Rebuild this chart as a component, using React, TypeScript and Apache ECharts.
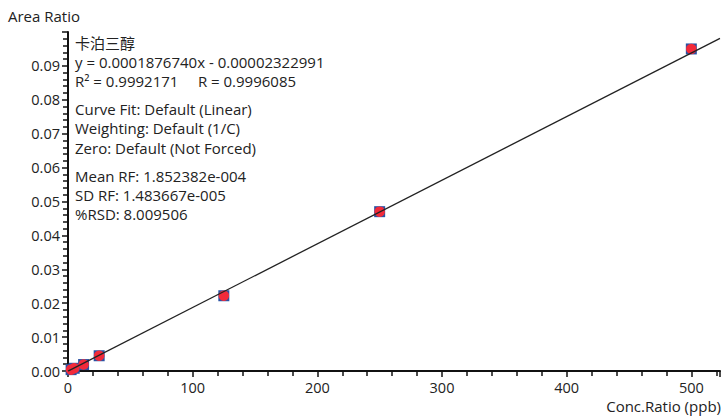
import React, { useEffect, useRef } from "react";
import * as echarts from "echarts";

const concRatio = [2.5, 5, 12.5, 25, 125, 250, 500];
const areaRatio = [0.0004, 0.0008, 0.0019, 0.0045, 0.0222, 0.0470, 0.0950];
const fitLine = [
  [0, -0.0000232],
  [523, 0.09813],
];
const annotationLines = [
  { text: "卡泊三醇", y: 43 },
  { text: "y = 0.0001876740x - 0.00002322991", y: 62 },
  { text: "R² = 0.9992171     R = 0.9996085", y: 81 },
  { text: "Curve Fit: Default (Linear)", y: 109 },
  { text: "Weighting: Default (1/C)", y: 128 },
  { text: "Zero: Default (Not Forced)", y: 148 },
  { text: "Mean RF: 1.852382e-004", y: 176 },
  { text: "SD RF: 1.483667e-005", y: 195 },
  { text: "%RSD: 8.009506", y: 214 },
];

const FONT = "'Open Sans', 'Noto Sans CJK SC', 'Noto Sans', sans-serif";

export default function App() {
  const ref = useRef<HTMLDivElement>(null);
  useEffect(() => {
    if (!ref.current) return;
    const chart = echarts.init(ref.current, null, { renderer: "svg" });
    const pts = concRatio.map((c, i) => [c, areaRatio[i]]);
    chart.setOption({
      animation: false,
      backgroundColor: "#ffffff",
      textStyle: { fontFamily: FONT },
      grid: { left: 68, right: 0, top: 32, bottom: 45, containLabel: false },
      xAxis: {
        type: "value",
        min: 0,
        max: 523,
        interval: 100,
        splitLine: { show: false },
        axisLine: { show: true, onZero: false, lineStyle: { color: "#111", width: 2 } },
        axisTick: { show: true, length: 6, lineStyle: { color: "#111", width: 1.5 } },
        minorTick: { show: true, splitNumber: 5, length: 5, lineStyle: { color: "#111", width: 1.5 } },
        axisLabel: {
          color: "#222",
          fontSize: 14.5,
          fontFamily: FONT,
          margin: 9,
          formatter: (v: number) => (v % 100 === 0 ? String(v) : ""),
        },
      },
      yAxis: {
        type: "value",
        min: 0,
        max: 0.1,
        interval: 0.01,
        splitLine: { show: false },
        axisLine: { show: true, onZero: false, lineStyle: { color: "#111", width: 2 } },
        axisTick: { show: true, length: 6, lineStyle: { color: "#111", width: 1.5 } },
        minorTick: { show: true, splitNumber: 5, length: 5, lineStyle: { color: "#111", width: 1.5 } },
        axisLabel: {
          color: "#222",
          fontSize: 14.5,
          fontFamily: FONT,
          margin: 8,
          showMaxLabel: false,
          formatter: (v: number) => v.toFixed(2),
        },
      },
      series: [
        {
          type: "scatter",
          data: pts,
          symbol: "rect",
          symbolSize: 11,
          itemStyle: { color: "#2b52a3", opacity: 1 },
          z: 2,
        },
        {
          type: "scatter",
          data: pts,
          symbol: "circle",
          symbolSize: 10.5,
          itemStyle: { color: "#f22a3a", opacity: 1 },
          z: 3,
        },
        {
          type: "line",
          data: fitLine,
          symbol: "none",
          lineStyle: { color: "#222", width: 1.3 },
          z: 4,
        },
      ],
      graphic: [
        {
          type: "text",
          left: 8,
          top: 8,
          style: { text: "Area Ratio", fontSize: 15, fill: "#222", fontFamily: FONT },
        },
        {
          type: "text",
          right: 2,
          top: 398,
          style: {
            text: "Conc.Ratio (ppb)",
            fontSize: 15,
            fill: "#222",
            fontFamily: FONT,
          },
        },
        ...annotationLines.map((l) => ({
          type: "text",
          x: 75,
          y: l.y,
          style: {
            text: l.text,
            fontSize: 15,
            fill: "#222",
            fontFamily: FONT,
            verticalAlign: "middle",
          },
        })),
      ],
    });
    return () => chart.dispose();
  }, []);
  return (
    <div
      ref={ref}
      style={{ position: "absolute", left: 0, top: 0, width: 723, height: 416 }}
    />
  );
}
